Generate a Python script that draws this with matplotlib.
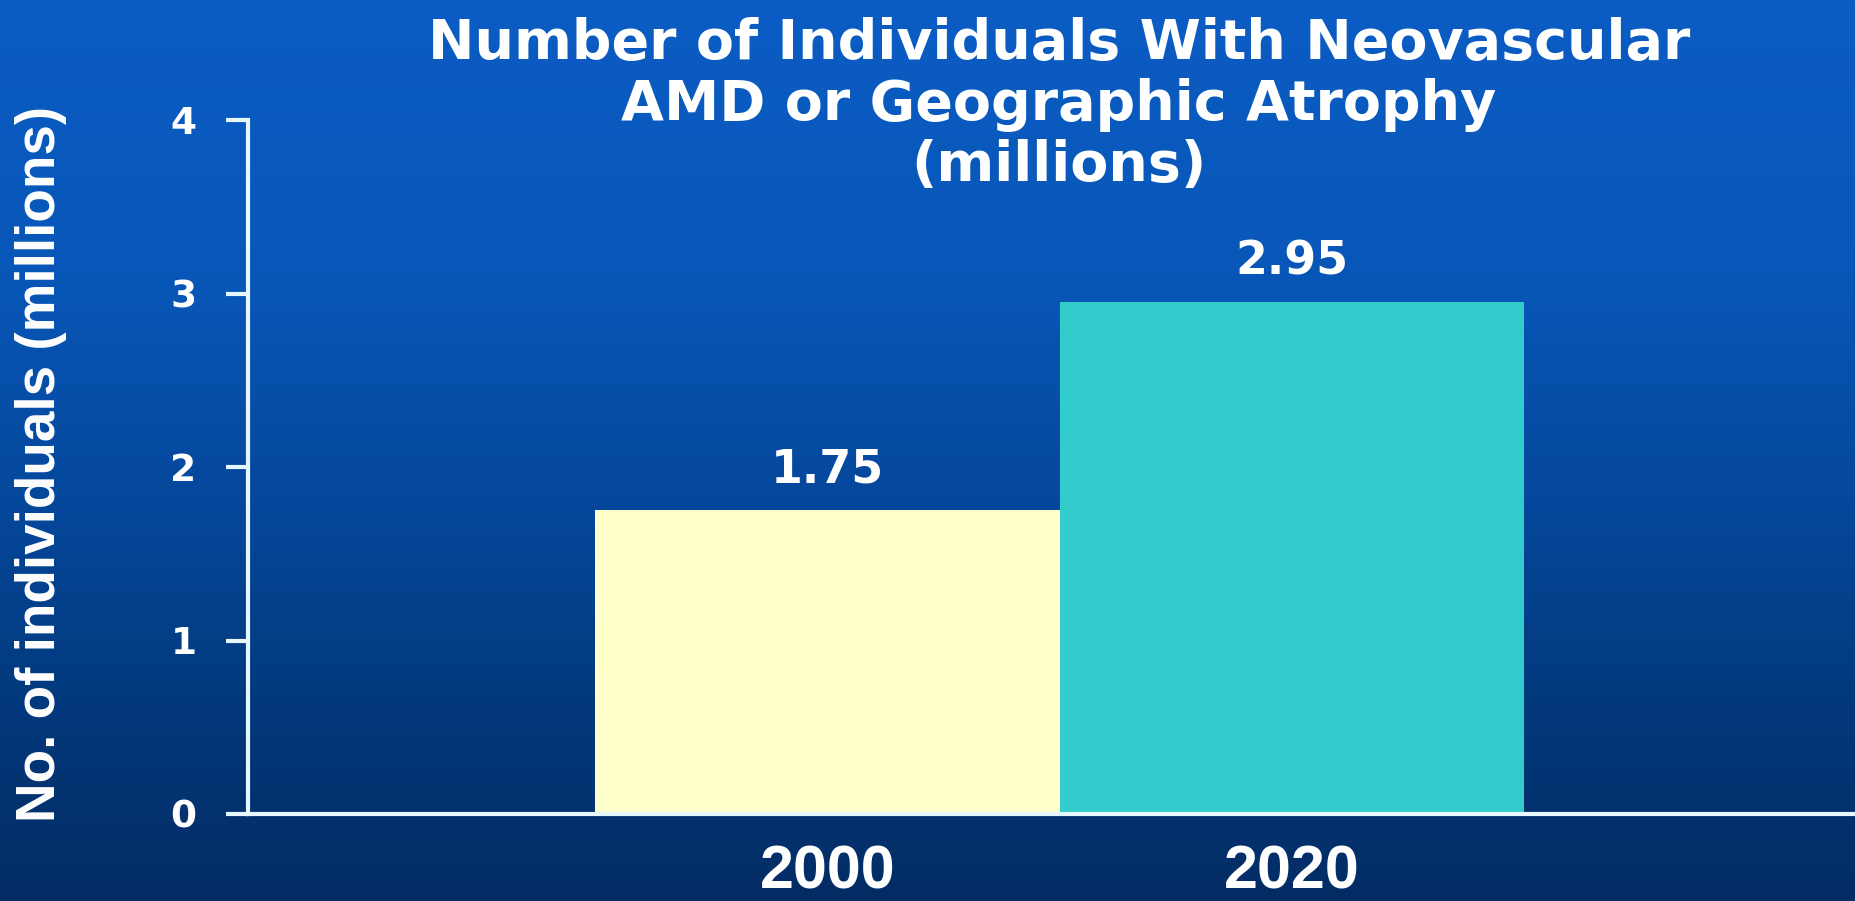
import matplotlib
matplotlib.use('Agg')
import matplotlib.pyplot as plt
import numpy as np
from matplotlib.colors import LinearSegmentedColormap

# Datos del gráfico
years = ['2000', '2020']
values = [1.75, 2.95]
value_labels = ['1.75', '2.95']
bar_colors = ['#FFFFCC', '#33CCCC']
y_ticks = [0, 1, 2, 3, 4]
title_lines = ['Number of Individuals With Neovascular',
               'AMD or Geographic Atrophy',
               '(millions)']
y_label = 'No. of individuals (millions)'

W, H = 1856, 901
fig = plt.figure(figsize=(W / 100, H / 100), dpi=100)

# fondo degradado azul
bg = fig.add_axes([0, 0, 1, 1], zorder=-10)
grad_cmap = LinearSegmentedColormap.from_list('bg', [
    (0.0, '#0b5cc4'),
    (0.3, '#0857b8'),
    (0.55, '#05489c'),
    (0.8, '#02387a'),
    (1.0, '#042c64'),
])
grad = np.linspace(0, 1, 256).reshape(-1, 1)
bg.imshow(grad, aspect='auto', cmap=grad_cmap, extent=[0, 1, 0, 1])
bg.axis('off')

narrow = ['Liberation Sans', 'DejaVu Sans']
wide = ['DejaVu Sans']
line_col = '#e6f8ff'

ax = fig.add_axes([248 / W, 87 / H, 1 - 248 / W, (814 - 120) / H])
ax.patch.set_alpha(0)

x = np.arange(len(years))
ax.bar(x, values, width=1.0, color=bar_colors, zorder=2)

for xi, v, lab in zip(x, values, value_labels):
    ax.annotate(lab, (xi, v), xytext=(0, 20), textcoords='offset points',
                ha='center', va='baseline', color='white', fontsize=33,
                fontweight='bold', family=wide)

ax.set_xlim(-1.248, 2.215)
ax.set_ylim(0, 4)
ax.set_yticks(y_ticks)
ax.set_yticklabels([str(t) for t in y_ticks], family=wide, fontweight='bold',
                   fontsize=27, color='white')
ax.set_xticks(x)
ax.set_xticklabels(years, family=narrow, fontweight='bold', fontsize=44,
                   color='white')
ax.tick_params(axis='y', length=16, width=3, color=line_col, pad=21)
ax.tick_params(axis='x', length=0, pad=22)

for s in ['top', 'right']:
    ax.spines[s].set_visible(False)
for s in ['left', 'bottom']:
    ax.spines[s].set_color(line_col)
    ax.spines[s].set_linewidth(3)
    ax.spines[s].set_zorder(3)

fig.text(41 / W, 1 - 464 / H, y_label, rotation=90, ha='center', va='center',
         family=narrow, fontweight='bold', fontsize=39.5, color='white')

# título en tres líneas, cada una en su línea base
for line, base in zip(title_lines, [59, 120, 181]):
    fig.text(1059 / W, 1 - base / H, line, ha='center', va='baseline',
             family=wide, fontweight='bold', fontsize=40, color='white')

fig.savefig('out.png', dpi=100)
